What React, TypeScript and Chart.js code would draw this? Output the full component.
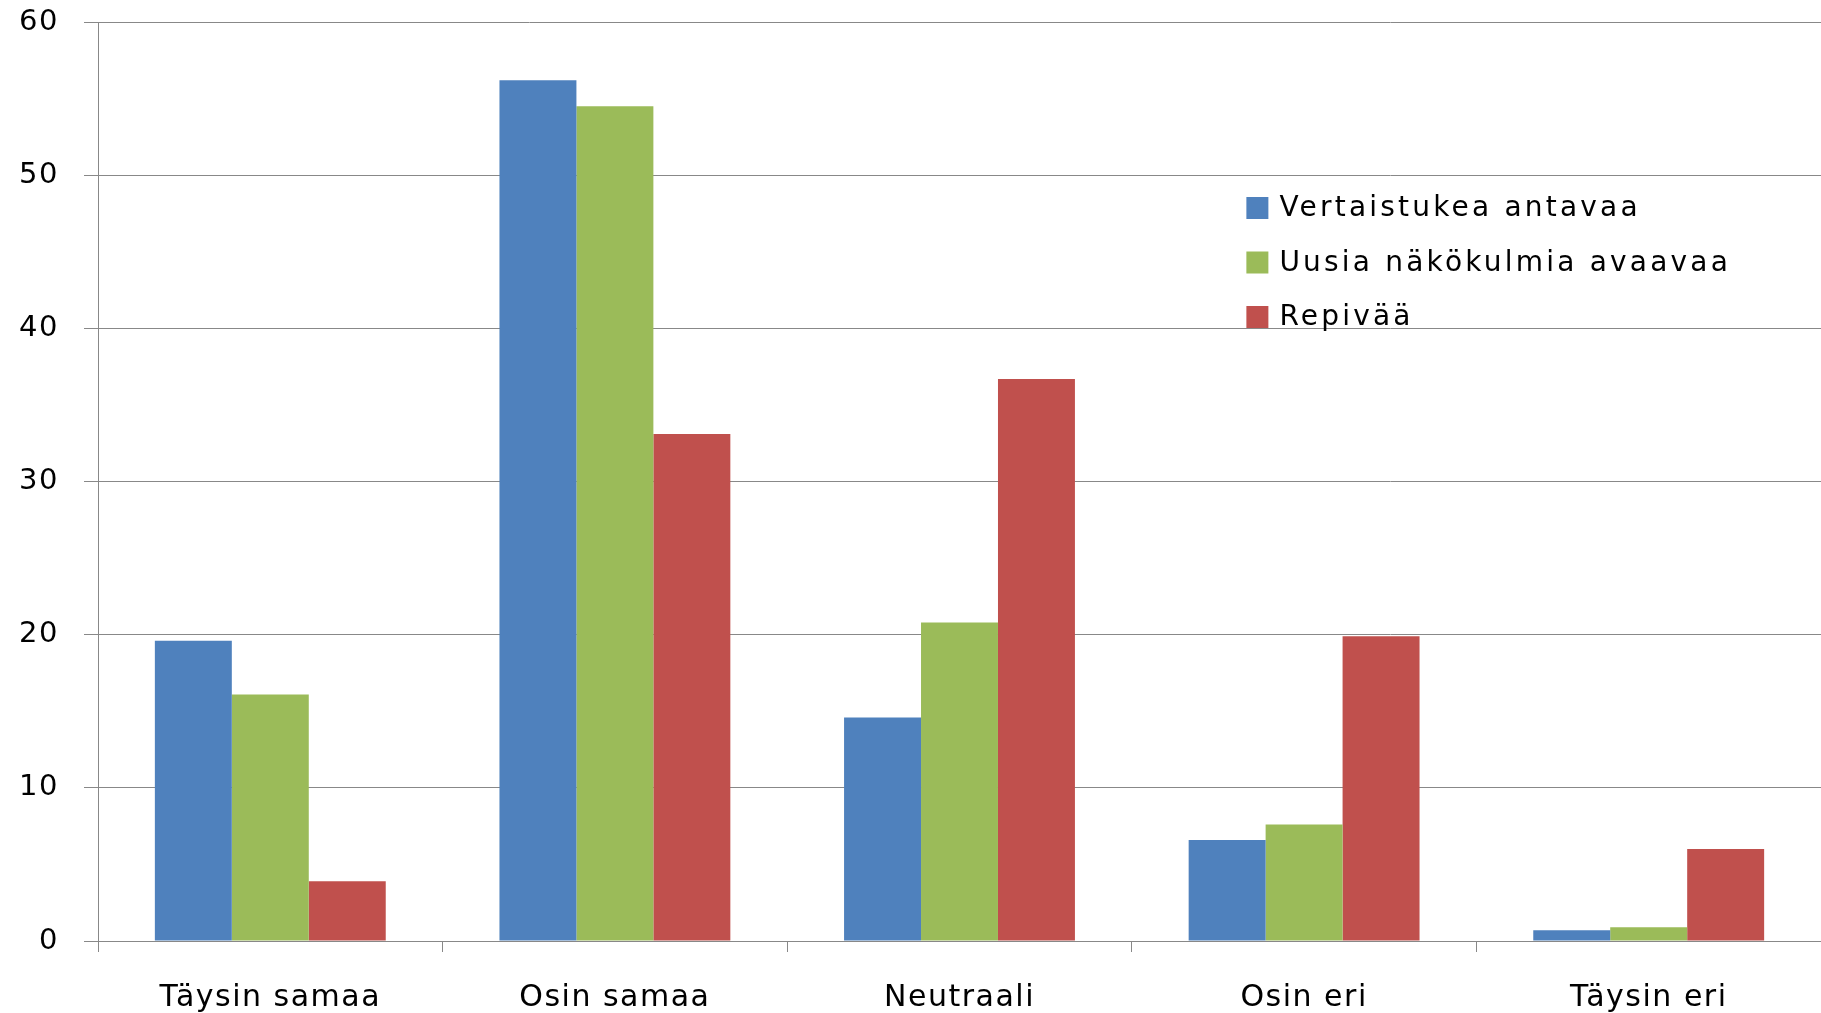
import React, { useEffect, useRef } from "react";
import { Chart, registerables } from "chart.js";

Chart.register(...registerables);

const categories = ["Täysin samaa", "Osin samaa", "Neutraali", "Osin eri", "Täysin eri"];
const seriesNames = ["Vertaistukea antavaa", "Uusia näkökulmia avaavaa", "Repivää"];
const vertaistukeaValues = [19.6, 56.2, 14.6, 6.6, 0.7];
const uusiaValues = [16.1, 54.5, 20.8, 7.6, 0.9];
const repivaaValues = [3.9, 33.1, 36.7, 19.9, 6.0];
const seriesColors = ["#4F81BD", "#9BBB59", "#C0504D"];
const yMin = 0;
const yMax = 60;
const yStep = 10;

const FONT = "'DejaVu Sans', Verdana, sans-serif";
const GRID = "#888888";

const spacingPlugin = {
  id: "spacingPlugin",
  beforeDraw(chart: any) {
    (chart.ctx as any).letterSpacing = "1.5px";
  },
};

const insideLegend = {
  id: "insideLegend",
  afterDraw(chart: any) {
    const { ctx, chartArea } = chart;
    const x0 = chartArea.left + chartArea.width * 0.6665;
    const y0 = chartArea.top + 186;
    const rowGap = 54.5;
    const box = 22;
    ctx.save();
    (ctx as any).letterSpacing = "3.2px";
    ctx.font = `28px ${FONT}`;
    ctx.textBaseline = "middle";
    ctx.textAlign = "left";
    chart.data.datasets.forEach((ds: any, i: number) => {
      const cy = y0 + i * rowGap;
      ctx.fillStyle = ds.backgroundColor;
      ctx.fillRect(x0, cy - box / 2, box, box);
      ctx.fillStyle = "#000000";
      ctx.fillText(ds.label, x0 + 33, cy + 1);
    });
    ctx.restore();
  },
};

export default function App() {
  const ref = useRef<HTMLCanvasElement | null>(null);

  useEffect(() => {
    if (!ref.current) return;
    const seriesValues = [vertaistukeaValues, uusiaValues, repivaaValues];
    const chart = new Chart(ref.current, {
      type: "bar",
      data: {
        labels: categories,
        datasets: seriesNames.map((name, i) => ({
          label: name,
          data: seriesValues[i],
          backgroundColor: seriesColors[i],
          borderWidth: 0,
          categoryPercentage: 0.67,
          barPercentage: 1.0,
        })),
      },
      options: {
        animation: false,
        responsive: false,
        layout: { padding: { top: 22, right: 0, bottom: 0, left: 0 } },
        plugins: {
          legend: { display: false },
          tooltip: { enabled: false },
        },
        scales: {
          x: {
            offset: true,
            grid: {
              offset: true,
              drawOnChartArea: false,
              drawTicks: true,
              tickLength: 11,
              color: GRID,
              lineWidth: 1,
            },
            border: { display: true, color: GRID, width: 1 },
            ticks: {
              color: "#000000",
              padding: 28,
              font: { family: FONT, size: 30 },
              maxRotation: 0,
              autoSkip: false,
            },
            afterFit(scale: any) {
              scale.height = 72;
              scale.paddingLeft = 0;
              scale.paddingRight = 0;
            },
          },
          y: {
            min: yMin,
            max: yMax,
            grid: {
              color: GRID,
              lineWidth: 1,
              tickLength: 14,
              drawTicks: true,
            },
            border: { display: true, color: GRID, width: 1 },
            ticks: {
              stepSize: yStep,
              color: "#000000",
              padding: 25,
              font: { family: FONT, size: 29 },
            },
            afterFit(scale: any) {
              scale.width = 98;
              scale.paddingTop = 0;
              scale.paddingBottom = 0;
            },
          },
        },
      },
      plugins: [spacingPlugin, insideLegend],
    });
    return () => chart.destroy();
  }, []);

  return (
    <div style={{ position: "fixed", left: 0, top: 0, width: 1821, height: 1013, background: "#ffffff" }}>
      <canvas ref={ref} width={1821} height={1013} />
    </div>
  );
}
